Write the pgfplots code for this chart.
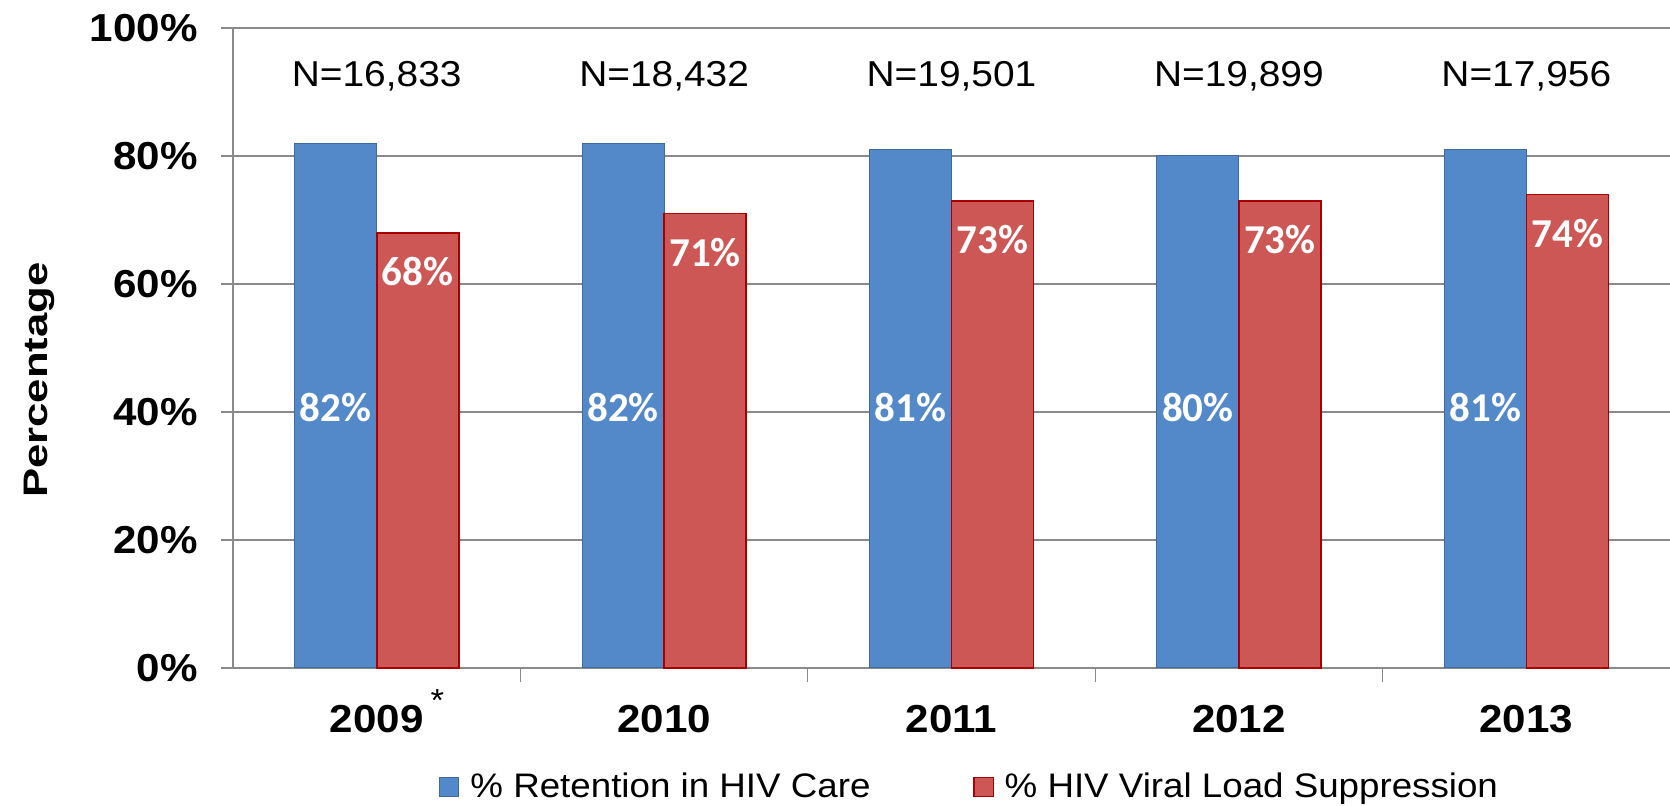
\documentclass[border=0pt]{standalone}
\usepackage{pgfplots}
\pgfplotsset{compat=1.18}
\usepackage{fontspec}
\setmainfont{Liberation Sans}[FakeStretch=1.08]
\newfontfamily\calib{Carlito}
\definecolor{barblue}{HTML}{5489C9}
\definecolor{blueedge}{HTML}{3E6A9E}
\definecolor{barred}{HTML}{CD5755}
\definecolor{rededge}{HTML}{A80000}
\definecolor{gridgray}{HTML}{8A8A8A}

\pgfplotstableread{
x y
0 82
1 82
2 81
3 80
4 81
}\retention
\pgfplotstableread{
x y
0 68
1 71
2 73
3 73
4 74
}\suppression
\pgfplotstableread{
x y lab
0 38.5 82
1 38.5 82
2 38.5 81
3 38.5 80
4 38.5 81
}\bluelabels
\pgfplotstableread{
x y lab
0 90.8 N=16,833
1 90.8 N=18,432
2 90.8 N=19,501
3 90.8 N=19,899
4 90.8 N=17,956
}\nlabels

\begin{document}
\begin{tikzpicture}
\begin{axis}[
  at={(116.5pt,69pt)}, anchor=south west,
  scale only axis, width=718.5pt, height=320pt,
  xmin=-0.5, xmax=4.5, ymin=0, ymax=100,
  axis x line*=bottom, axis y line*=left,
  axis line style={gridgray, line width=0.6pt},
  ytick={0,20,40,60,80,100},
  yticklabels={0\%,20\%,40\%,60\%,80\%,100\%},
  ymajorgrids, major grid style={gridgray, line width=0.6pt},
  xtick={0,1,2,3,4},
  xticklabels={{2009\rlap{\hspace{3.5pt}\raisebox{10.5pt}{\mdseries\fontsize{16}{16}\selectfont *}}},2010,2011,2012,2013},
  minor xtick={0.5,1.5,2.5,3.5},
  tick align=outside,
  major tick length=6pt, minor tick length=7pt,
  major x tick style={draw=none},
  minor x tick style={gridgray, line width=0.6pt},
  major y tick style={gridgray, line width=0.6pt},
  yticklabel style={font=\bfseries\fontsize{19.5}{20}\selectfont, anchor=east, inner sep=0pt, xshift=-11.5pt},
  xticklabel style={font=\bfseries\fontsize{19.5}{20}\selectfont, anchor=base, inner sep=0pt, yshift=-26.5pt},
  ylabel={\scalebox{1.19}[1]{Percentage}},
  ylabel style={font=\bfseries\fontsize{17}{17}\selectfont, at={(rel axis cs:-0.135,0.45)}, anchor=center, inner sep=0pt},
  legend columns=2,
  legend style={at={(rel axis cs:0.1434,-0.186)}, anchor=west, draw=none, fill=none, inner sep=0pt,
    font=\fontsize{17}{17}\selectfont, nodes={inner sep=0pt},
    /tikz/every odd column/.append style={column sep=5.5pt},
    /tikz/every even column/.append style={column sep=51.5pt}},
  clip=false,
]
\addplot[ybar, bar width=41pt, bar shift=-20.5pt, fill=barblue, draw=blueedge, line width=0.5pt,
  legend image code/.code={\draw[fill=barblue, draw=blueedge, line width=0.5pt] (0pt,-4.75pt) rectangle (9.5pt,4.75pt);}]
  table[x=x, y=y] {\retention};
\addlegendentry{\% Retention in HIV Care}
\addplot[ybar, bar width=41pt, bar shift=20.5pt, fill=barred, draw=rededge, line width=0.8pt,
  legend image code/.code={\draw[fill=barred, draw=rededge, line width=0.6pt] (0pt,-4.75pt) rectangle (9.5pt,4.75pt);},
  nodes near coords={\pgfmathprintnumber[assume math mode=true]{\pgfplotspointmeta}\%},
  nodes near coords style={anchor=base, xshift=20.5pt, yshift=-26.4pt, inner sep=0pt, text=white, font=\calib\bfseries\fontsize{20.5}{21}\selectfont}]
  table[x=x, y=y] {\suppression};
\addlegendentry{\% HIV Viral Load Suppression}
\addplot[draw=none, mark=none, forget plot, nodes near coords={\pgfplotspointmeta\%}, point meta=explicit symbolic,
  nodes near coords style={anchor=base, xshift=-20.5pt, inner sep=0pt, text=white, font=\calib\bfseries\fontsize{20.5}{21}\selectfont}]
  table[x=x, y=y, meta=lab] {\bluelabels};
\addplot[draw=none, mark=none, forget plot, nodes near coords={\pgfplotspointmeta}, point meta=explicit symbolic,
  nodes near coords style={anchor=base, inner sep=0pt, text=black, font=\fontsize{18}{18}\selectfont}]
  table[x=x, y=y, meta=lab] {\nlabels};
\end{axis}
\pgfresetboundingbox
\path[use as bounding box] (0,0) rectangle (835pt,403pt);
\end{tikzpicture}
\end{document}
